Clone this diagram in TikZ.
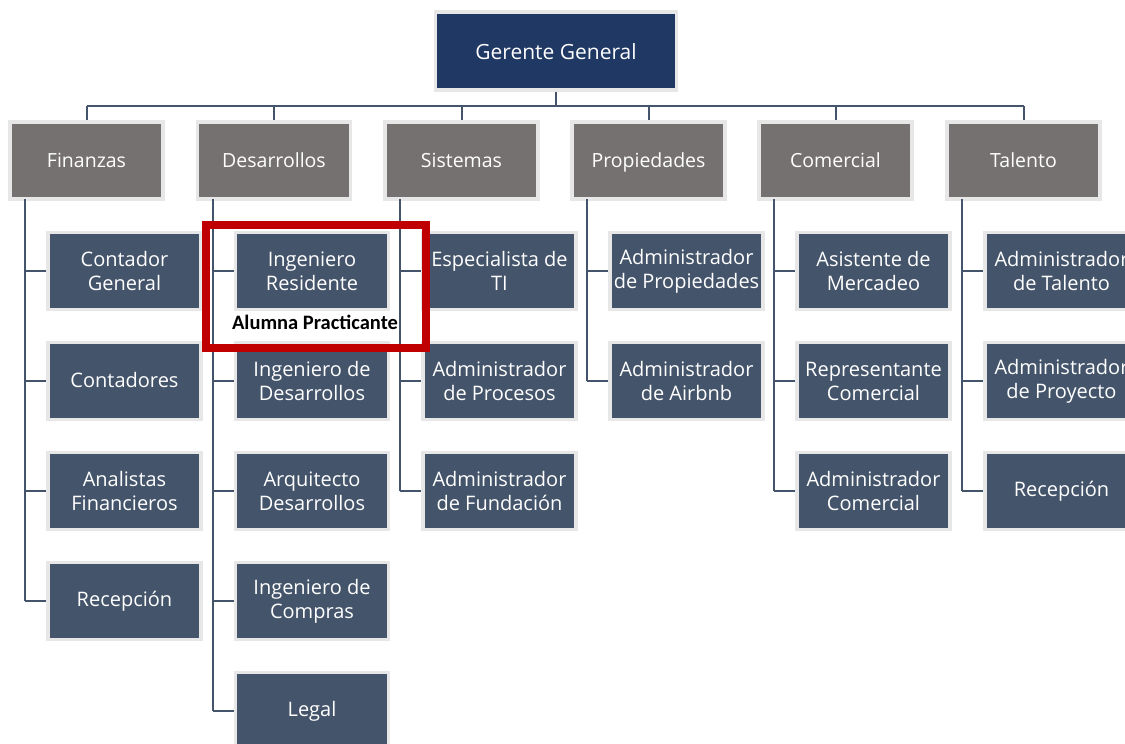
\documentclass[tikz,border=0pt]{standalone}
\usepackage{fontspec}
\setmainfont{Open Sans}
\newfontfamily\calib{Carlito}
\definecolor{topblue}{HTML}{203864}
\definecolor{deptgray}{HTML}{767171}
\definecolor{childblue}{HTML}{44546A}
\definecolor{edgegray}{HTML}{E7E7E7}
\definecolor{linecol}{HTML}{44546A}
\definecolor{redbox}{HTML}{C00000}
\tikzset{
  base/.style={draw=edgegray, line width=3.5pt, text=white, align=center, inner sep=0pt,
    font=\fontsize{20}{24}\selectfont},
  topbox/.style={base, fill=topblue, minimum width=241pt, minimum height=78pt,
    font=\fontsize{21}{24}\selectfont, text height=18pt, text depth=2pt},
  deptbox/.style={base, fill=deptgray, minimum width=153pt, minimum height=77pt,
    font=\fontsize{19.5}{24}\selectfont, text height=16pt, text depth=2pt},
  childbox/.style={base, fill=childblue, minimum width=153pt, minimum height=77pt},
  conn/.style={draw=linecol, line width=2pt},
}
\begin{document}
\begin{tikzpicture}[x=1pt,y=-1pt]
\useasboundingbox (0,0) rectangle (1125,744);
\clip (0,0) rectangle (1125,744);
\node[topbox] (gg) at (556,51) {Gerente General};
\coordinate (busL) at (86.5,106);
\coordinate (busR) at (1023.5,106);
\coordinate (busM) at (556,106);
\draw[conn] (gg.south) -- (busM);
\draw[conn] (busL) -- (busR);
% departments
\foreach \n/\x/\t in {fin/86.5/Finanzas, des/274/Desarrollos, sis/461.5/Sistemas, pro/648.5/Propiedades, com/835.5/Comercial, tal/1023.5/Talento}{
  \node[deptbox] (\n) at (\x,160.5) {\t};
  \coordinate (\n bus) at (\x,106);
  \draw[conn] (\n bus) -- (\n.north);
}
% children
\newcommand{\kids}[3]{% dept name, dept x, list of label
  \foreach \lab [count=\i] in {#3}{
    \pgfmathsetmacro{\yy}{271+110*(\i-1)}
    \node[childbox] (#1c\i) at (#2+38,\yy) {\lab};
    \coordinate (#1v\i) at (#2-61.5,\yy);
    \draw[conn] (#1v\i) -- (#1c\i.west);
  }
}
\coordinate (finv0) at (25,199);
\kids{fin}{86.5}{{Contador\\General},{\rule[-4pt]{0pt}{20pt}Contadores},{Analistas\\Financieros},{\rule[-4pt]{0pt}{20pt}Recepción}}
\draw[conn] (finv0) -- (finv4);
\coordinate (desv0) at (212.5,199);
\kids{des}{274}{{Ingeniero\\Residente},{Ingeniero de\\Desarrollos},{Arquitecto\\Desarrollos},{Ingeniero de\\Compras},{\rule[-4pt]{0pt}{20pt}Legal}}
\draw[conn] (desv0) -- (desv5);
\coordinate (sisv0) at (400,199);
\kids{sis}{461.5}{{Especialista de\\TI},{Administrador\\de Procesos},{Administrador\\de Fundación}}
\draw[conn] (sisv0) -- (sisv3);
\coordinate (prov0) at (587,199);
\kids{pro}{648.5}{{Administrador\\de Propiedades},{Administrador\\de Airbnb}}
\draw[conn] (prov0) -- (prov2);
\coordinate (comv0) at (774,199);
\kids{com}{835.5}{{Asistente de\\Mercadeo},{Representante\\Comercial},{Administrador\\Comercial}}
\draw[conn] (comv0) -- (comv3);
\coordinate (talv0) at (962,199);
\kids{tal}{1023.5}{{Administrador\\de Talento},{Administrador\\de Proyecto},{\rule[-4pt]{0pt}{20pt}Recepción}}
\draw[conn] (talv0) -- (talv3);
% highlight
\node[font=\calib\bfseries\fontsize{20.5}{24}\selectfont, text=black, inner sep=0pt] (alumna) at (315,322) {Alumna Practicante};
\draw[redbox, line width=8pt] (206,225) rectangle (426,348);
\end{tikzpicture}
\end{document}
